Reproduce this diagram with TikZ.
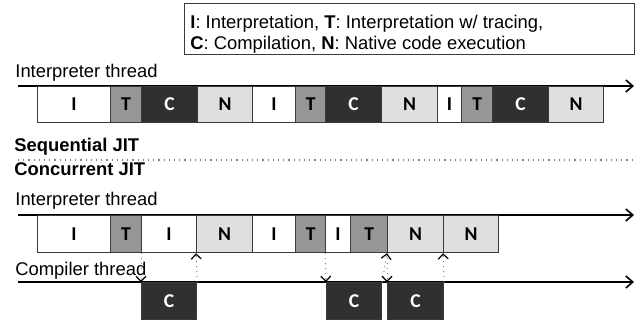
\documentclass[tikz,border=0pt]{standalone}
\usepackage{fontspec}
\setmainfont{Liberation Sans}
\newfontfamily\carlito{Carlito}
\usetikzlibrary{arrows.meta}
\definecolor{tgray}{HTML}{969696}
\definecolor{cdark}{HTML}{303030}
\definecolor{nlight}{HTML}{DFDFDF}
\definecolor{edgec}{HTML}{3A3A3A}
\tikzset{
  lbl/.style={anchor=base west, inner sep=0pt, font=\fontsize{9.2}{11}\selectfont},
  blbl/.style={lbl, font=\fontsize{9.2}{11}\selectfont\bfseries},
  seg/.style={draw=edgec, line width=0.6pt, anchor=north west, inner sep=0pt,
    font=\carlito\bfseries\fontsize{9.8}{11}\selectfont},
  kI/.style={seg, fill=white, text=black},
  kT/.style={seg, fill=tgray, text=black},
  kC/.style={seg, fill=cdark, text=white},
  kN/.style={seg, fill=nlight, text=black},
  timeline/.style={line width=0.8pt, -{Straight Barb[length=3.5pt,width=6pt,line width=0.8pt]}},
  sync/.style={gray, dotted, line width=0.5pt, -{Straight Barb[length=2.5pt,width=5pt,line width=0.6pt,black]}},
  legend/.style={draw=edgec, line width=0.5pt, fill=white}
}
\begin{document}
\begin{tikzpicture}[x=0.5pt,y=-0.5pt]
\useasboundingbox (0,0) rectangle (637,327);
% legend
\draw[legend] (184,3) rectangle (634,54);
\node[lbl] (leg1) at (190,28) {\textbf{I}: Interpretation, \textbf{T}: Interpretation w/ tracing,};
\node[lbl] (leg2) at (190,49) {\textbf{C}: Compilation, \textbf{N}: Native code execution};
% sequential
\node[lbl] (it1) at (15,77) {Interpreter thread};
\coordinate (t1s) at (18,86);
\coordinate (t1e) at (634,86);
\draw[timeline] (t1s) -- (t1e);
\foreach \n/\a/\b/\k in {r1a/37/110/I, r1b/110/141/T, r1c/141/197/C, r1d/197/252/N,
  r1e/252/295/I, r1f/295/325/T, r1g/325/381/C, r1h/381/437/N, r1i/437/461/I,
  r1j/461/492/T, r1k/492/548/C, r1l/548/603/N}
  \node[k\k, minimum width={(\b-\a)*0.5pt}, minimum height=18pt] (\n) at (\a,86) {\k};
\node[blbl] (seq) at (14,151) {Sequential JIT};
\coordinate (sepS) at (18,160);
\coordinate (sepE) at (633,160);
\draw[gray, dotted, line width=0.6pt] (sepS) -- (sepE);
\node[blbl] (con) at (14,175) {Concurrent JIT};
% concurrent
\node[lbl] (it2) at (15,205) {Interpreter thread};
\coordinate (t2s) at (18,215);
\coordinate (t2e) at (634,215);
\draw[timeline] (t2s) -- (t2e);
\foreach \n/\a/\b/\k in {r2a/37/110/I, r2b/110/141/T, r2c/141/196/I, r2d/196/252/N,
  r2e/252/295/I, r2f/295/325/T, r2g/325/350/I, r2h/350/387/T, r2i/387/443/N, r2j/443/498/N}
  \node[k\k, minimum width={(\b-\a)*0.5pt}, minimum height=18.5pt] (\n) at (\a,215) {\k};
\node[lbl] (ct) at (15,275) {Compiler thread};
\coordinate (t3s) at (18,282);
\coordinate (t3e) at (634,282);
\draw[timeline] (t3s) -- (t3e);
\foreach \n/\a/\b in {c1/141/196, c2/326/381, c3/387/443}
  \node[kC, minimum width={(\b-\a)*0.5pt}, minimum height=18.5pt] (\n) at (\a,282) {C};
% sync arrows
\draw[sync] (r2c.south west) -- (c1.north west);
\draw[sync] (c1.north east) -- (r2d.south west);
\draw[sync] (r2g.south west) -- (c2.north west);
\draw[sync] (c2.north east) -- (r2i.south west);
\draw[sync] (r2i.south west) -- (c3.north west);
\draw[sync] (c3.north east) -- (r2j.south west);
\end{tikzpicture}
\end{document}
